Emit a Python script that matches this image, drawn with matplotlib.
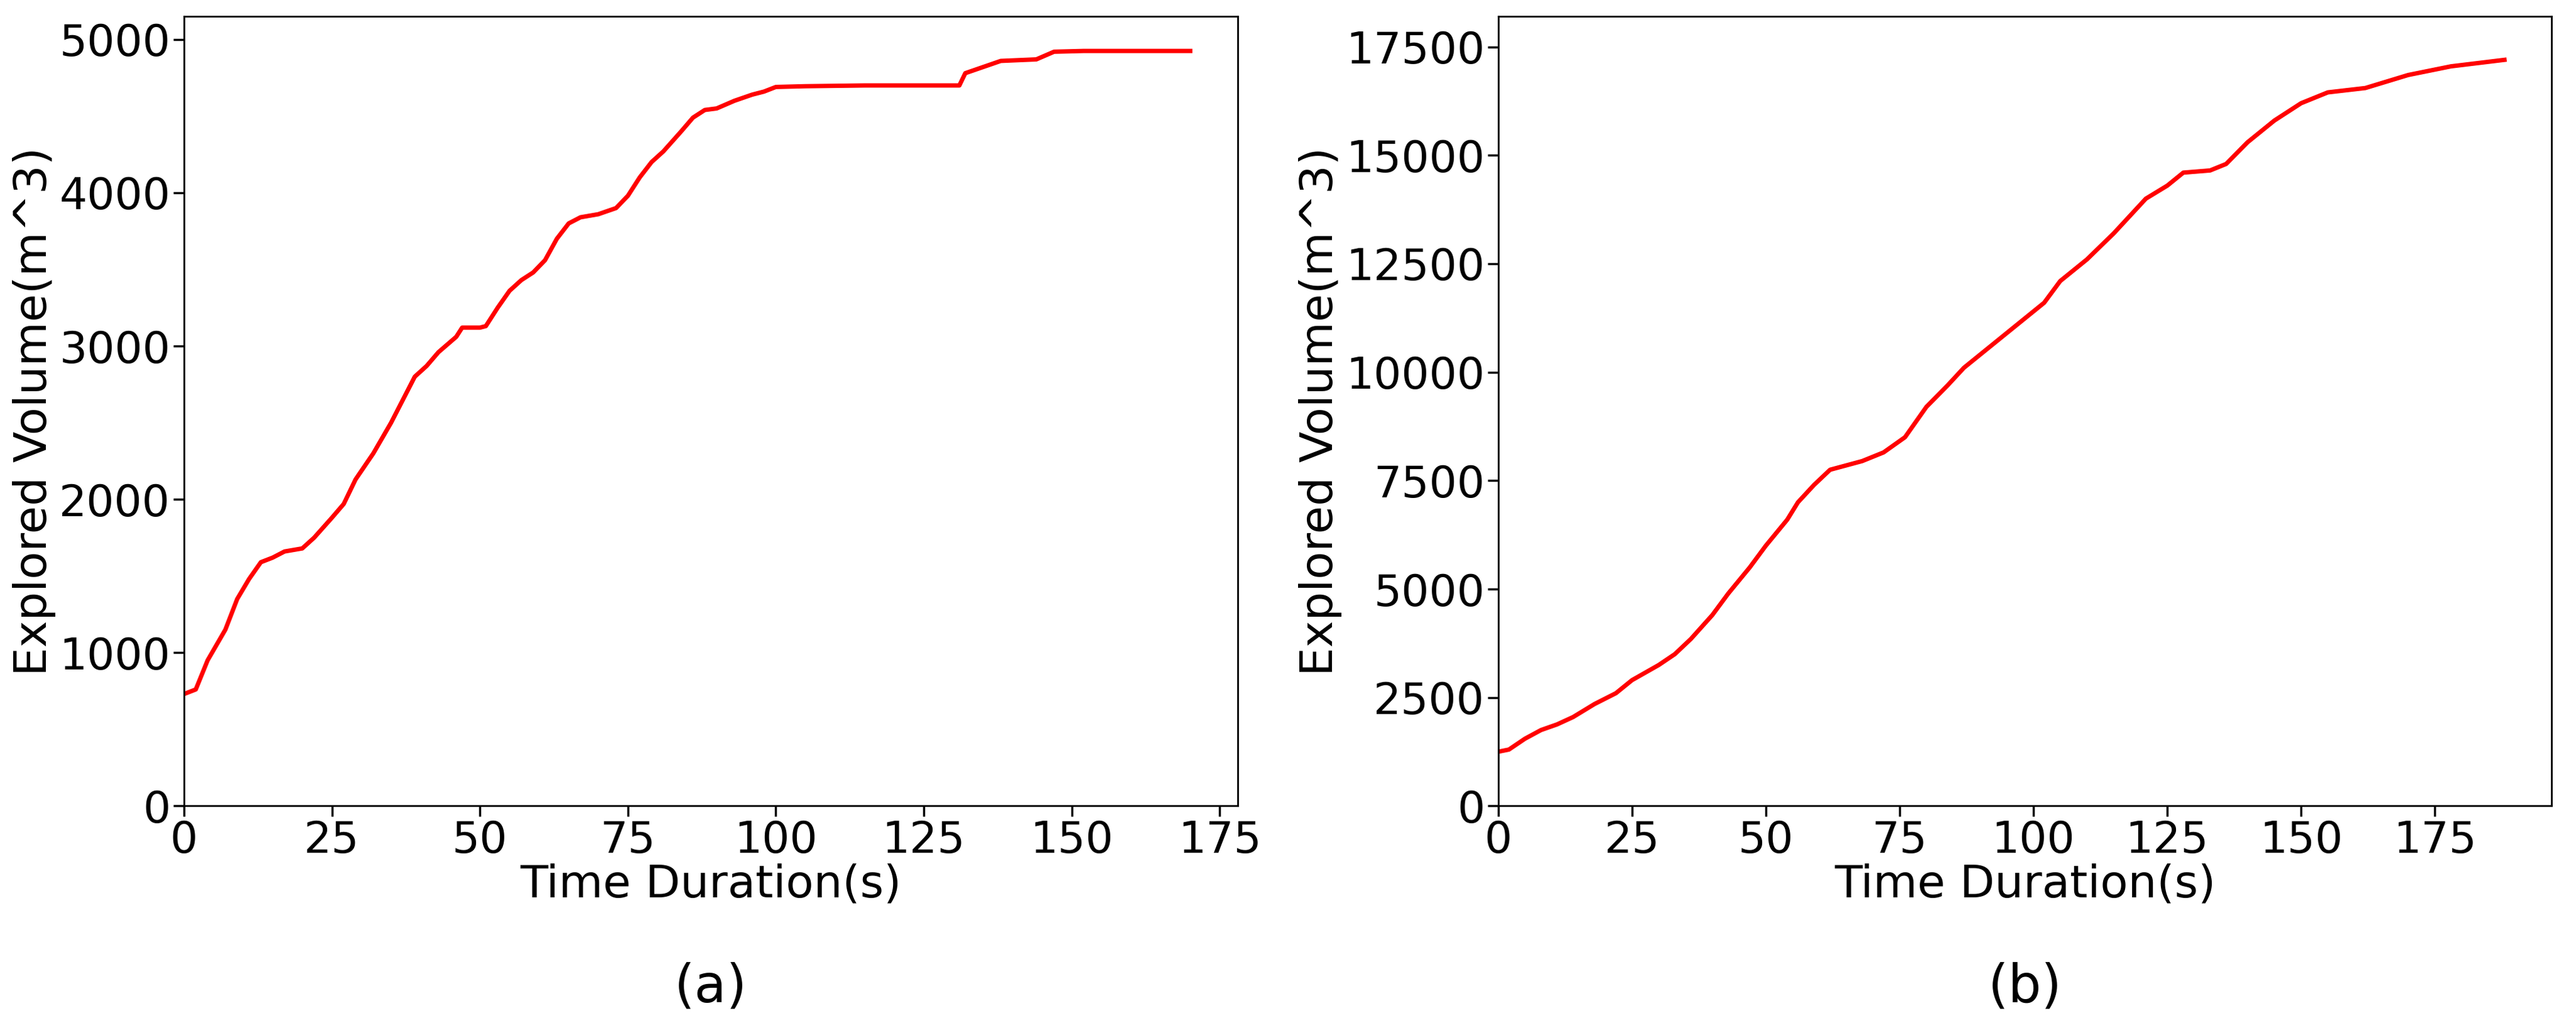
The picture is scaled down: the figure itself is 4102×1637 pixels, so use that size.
import matplotlib
matplotlib.use("Agg")
import matplotlib.pyplot as plt

a_t = [0,2,4,7,9,11,13,15,17,20,22,25,27,29,32,35,37,39,41,43,46,47,50,51,53,55,57,59,61,63,65,67,70,73,75,77,79,81,84,86,88,90,93,96,98,100,105,115,131,132,135,138,144,147,152,170]
a_v = [730,760,950,1150,1350,1480,1590,1620,1660,1680,1750,1880,1970,2130,2300,2500,2650,2800,2870,2960,3060,3120,3120,3130,3250,3360,3430,3480,3560,3700,3800,3840,3860,3900,3980,4100,4200,4270,4400,4490,4540,4550,4600,4640,4660,4690,4695,4700,4700,4780,4820,4860,4870,4920,4925,4925]
b_t = [0,2,5,8,11,14,18,22,25,30,33,36,40,43,47,50,54,56,59,62,65,68,72,76,80,84,87,92,97,102,105,110,115,118,121,125,128,133,136,140,145,150,155,162,170,178,188]
b_v = [1250,1300,1550,1750,1880,2050,2350,2600,2900,3250,3500,3850,4400,4900,5500,6000,6600,7000,7400,7750,7850,7950,8150,8500,9200,9700,10100,10600,11100,11600,12100,12600,13200,13600,14000,14300,14600,14650,14800,15300,15800,16200,16450,16550,16850,17050,17200]

fig = plt.figure(figsize=(41.02, 16.37), dpi=100)
panels = [(0.0714, a_t, a_v, 5150, [0,1000,2000,3000,4000,5000], "(a)"),
          (0.5816, b_t, b_v, 18200, [0,2500,5000,7500,10000,12500,15000,17500], "(b)")]
for left, t, v, ymax, yt, lab in panels:
    ax = fig.add_axes([left, 0.216, 0.409, 0.768])
    ax.plot(t, v, color="red", lw=5)
    ax.set_xlim(0, max(t) * 1.047)
    ax.set_ylim(0, ymax)
    ax.set_yticks(yt)
    ax.set_xticks([0,25,50,75,100,125,150,175])
    for s in ax.spines.values():
        s.set_color("black"); s.set_linewidth(2)
    ax.tick_params(labelsize=50, length=12, width=2.5)
    ax.set_xlabel("Time Duration(s)", fontsize=52, labelpad=2)
    ax.set_ylabel("Explored Volume(m^3)", fontsize=52)
    fig.text(left + 0.2045, 0.04, lab, fontsize=60, ha="center", va="center")
fig.savefig("out.png", dpi=100)
